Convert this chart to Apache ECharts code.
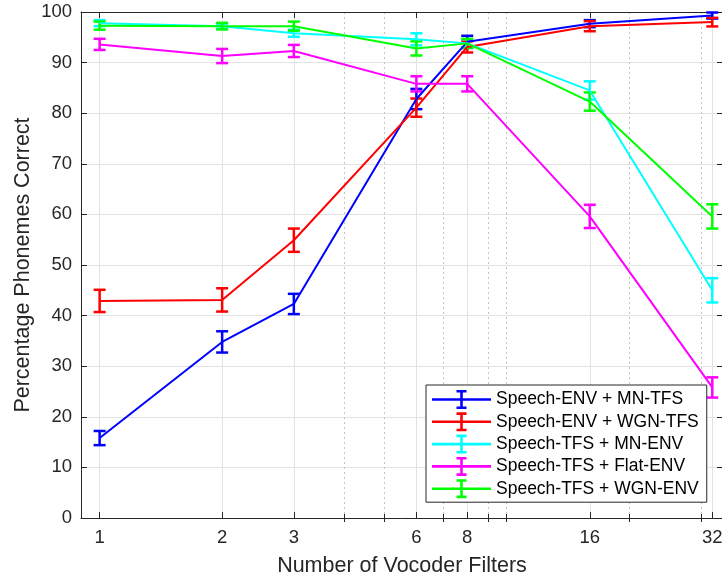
<!DOCTYPE html>
<html>
<head>
<meta charset="utf-8">
<script src="https://cdn.jsdelivr.net/npm/echarts@6/dist/echarts.min.js"></script>
<style>
html,body{margin:0;padding:0;background:#fff;}
#chart{width:722px;height:580px;}
</style>
</head>
<body>
<div id="chart"></div>
<script>
// ---- data ----
const filters = [1, 2, 3, 6, 8, 16, 32];
const minorFilters = [4, 5, 7, 9, 10, 20, 30];
const seriesNames = [
  'Speech-ENV + MN-TFS',
  'Speech-ENV + WGN-TFS',
  'Speech-TFS + MN-ENV',
  'Speech-TFS + Flat-ENV',
  'Speech-TFS + WGN-ENV'
];
const envMnTfs      = [15.8, 34.8, 42.3, 82.8, 94.1, 97.7, 99.3];
const envMnTfsErr   = [1.4, 2.1, 2.0, 2.0, 1.2, 0.7, 0.6];
const envWgnTfs     = [42.9, 43.1, 54.9, 81.1, 93.1, 97.2, 98.0];
const envWgnTfsErr  = [2.2, 2.3, 2.3, 1.8, 1.1, 1.0, 0.85];
const tfsMnEnv      = [97.8, 97.2, 95.8, 94.6, 93.8, 84.5, 45.0];
const tfsMnEnvErr   = [0.6, 0.5, 0.7, 1.2, 0.8, 1.8, 2.4];
const tfsFlatEnv    = [93.6, 91.3, 92.3, 85.8, 85.8, 59.6, 25.8];
const tfsFlatEnvErr = [1.1, 1.4, 1.2, 1.5, 1.5, 2.3, 2.0];
const tfsWgnEnv     = [97.3, 97.2, 97.2, 92.8, 93.8, 82.3, 59.6];
const tfsWgnEnvErr  = [0.8, 0.65, 0.9, 1.4, 0.9, 1.8, 2.4];

const values = [envMnTfs, envWgnTfs, tfsMnEnv, tfsFlatEnv, tfsWgnEnv];
const errors = [envMnTfsErr, envWgnTfsErr, tfsMnEnvErr, tfsFlatEnvErr, tfsWgnEnvErr];
const colors = ['#0000ff', '#ff0000', '#00ffff', '#ff00ff', '#00ff00'];

// ---- styles ----
const FONT = '"Liberation Sans", Arial, Helvetica, sans-serif';
const AX = '#262626';
const GRID = '#e2e2e2';
const MINOR = '#c4c4c4';
const XMIN = 0.9, XMAX = 34;

const legendIcon = 'path://M0 8.2H59V10.8H0Z M28.2 0H30.8V19H28.2Z M24.5 0H34.5V2.6H24.5Z M24.5 16.4H34.5V19H24.5Z';

function errRender(color) {
  return function (params, api) {
    const x = api.value(0), lo = api.value(1), hi = api.value(2);
    const a = api.coord([x, lo]), b = api.coord([x, hi]);
    const w = 6;
    const style = { stroke: color, lineWidth: 2.5, fill: null };
    return {
      type: 'group',
      children: [
        { type: 'line', shape: { x1: a[0], y1: a[1], x2: b[0], y2: b[1] }, style: style },
        { type: 'line', shape: { x1: a[0] - w, y1: a[1], x2: a[0] + w, y2: a[1] }, style: style },
        { type: 'line', shape: { x1: b[0] - w, y1: b[1], x2: b[0] + w, y2: b[1] }, style: style }
      ]
    };
  };
}

const series = [];
values.forEach(function (vals, i) {
  series.push({
    name: seriesNames[i],
    type: 'line',
    xAxisIndex: 0, yAxisIndex: 0,
    data: filters.map(function (f, j) { return [f, vals[j]]; }),
    symbol: 'none',
    itemStyle: { color: colors[i], borderWidth: 0 },
    lineStyle: { color: colors[i], width: 2 },
    animation: false
  });
  series.push({
    name: seriesNames[i],
    type: 'custom',
    xAxisIndex: 0, yAxisIndex: 0,
    renderItem: errRender(colors[i]),
    encode: { x: 0, y: [1, 2] },
    data: filters.map(function (f, j) { return [f, vals[j] - errors[i][j], vals[j] + errors[i][j]]; }),
    itemStyle: { color: colors[i] },
    animation: false
  });
});

const baseX = {
  type: 'log', logBase: 2, min: XMIN, max: XMAX,
  axisLine: { show: false },
  axisLabel: { show: false },
  axisTick: { show: false },
  splitLine: { show: false }
};

const option = {
  backgroundColor: '#fff',
  animation: false,
  grid: { left: 81, top: 12, width: 642, height: 506, outerBoundsMode: 'none', containLabel: false },
  legend: {
    orient: 'vertical',
    left: 426, top: 385,
    padding: [5, 8, 4, 6],
    itemWidth: 59, itemHeight: 19, itemGap: 3.3,
    backgroundColor: '#fff',
    borderColor: AX, borderWidth: 1, borderRadius: 0,
    itemStyle: { borderWidth: 0 },
    textStyle: { fontFamily: FONT, fontSize: 17.5, color: '#000', lineHeight: 19 },
    selectedMode: false,
    data: seriesNames.map(function (n) { return { name: n, icon: legendIcon }; })
  },
  xAxis: [
    Object.assign({}, baseX, {
      position: 'bottom',
      axisLine: { show: true, onZero: false, lineStyle: { color: AX, width: 1 } },
      axisTick: { show: true, inside: true, length: 6, customValues: filters, lineStyle: { color: AX } },
      axisLabel: {
        show: true, customValues: filters, margin: 10,
        fontFamily: FONT, fontSize: 18.5, color: AX,
        formatter: function (v) { return String(Math.round(v)); }
      },
      splitLine: { show: true, lineStyle: { color: GRID, width: 1 } },
      name: 'Number of Vocoder Filters',
      nameLocation: 'middle', nameGap: 37, nameMoveOverlap: false,
      nameTextStyle: { fontFamily: FONT, fontSize: 21.5, color: AX }
    }),
    Object.assign({}, baseX, {
      position: 'top',
      axisLine: { show: true, onZero: false, lineStyle: { color: AX, width: 1 } },
      axisTick: { show: true, inside: true, length: 6, customValues: filters, lineStyle: { color: AX } }
    }),
    Object.assign({}, baseX, {
      position: 'bottom',
      axisTick: { show: true, inside: true, length: 4, customValues: minorFilters, lineStyle: { color: AX } },
      splitLine: { show: true, lineStyle: { color: MINOR, width: 1, type: [2, 3] } }
    }),
    Object.assign({}, baseX, {
      position: 'top',
      axisTick: { show: true, inside: true, length: 4, customValues: minorFilters, lineStyle: { color: AX } }
    })
  ],
  yAxis: [
    {
      type: 'value', min: 0, max: 100, interval: 10, position: 'left',
      axisLine: { show: true, onZero: false, lineStyle: { color: AX, width: 1 } },
      axisTick: { show: true, inside: true, length: 6, lineStyle: { color: AX } },
      axisLabel: { margin: 9, fontFamily: FONT, fontSize: 18.5, color: AX },
      splitLine: { show: true, lineStyle: { color: GRID, width: 1 } },
      name: 'Percentage Phonemes Correct',
      nameLocation: 'middle', nameGap: 47, nameMoveOverlap: false,
      nameTextStyle: { fontFamily: FONT, fontSize: 21.5, color: AX }
    },
    {
      type: 'value', min: 0, max: 100, interval: 10, position: 'right',
      axisLine: { show: true, onZero: false, lineStyle: { color: AX, width: 1 } },
      axisTick: { show: true, inside: true, length: 6, lineStyle: { color: AX } },
      axisLabel: { show: false },
      splitLine: { show: false }
    }
  ],
  series: series
};

const chart = echarts.init(document.getElementById('chart'), null, { renderer: 'canvas' });
chart.setOption(option);
</script>
</body>
</html>
